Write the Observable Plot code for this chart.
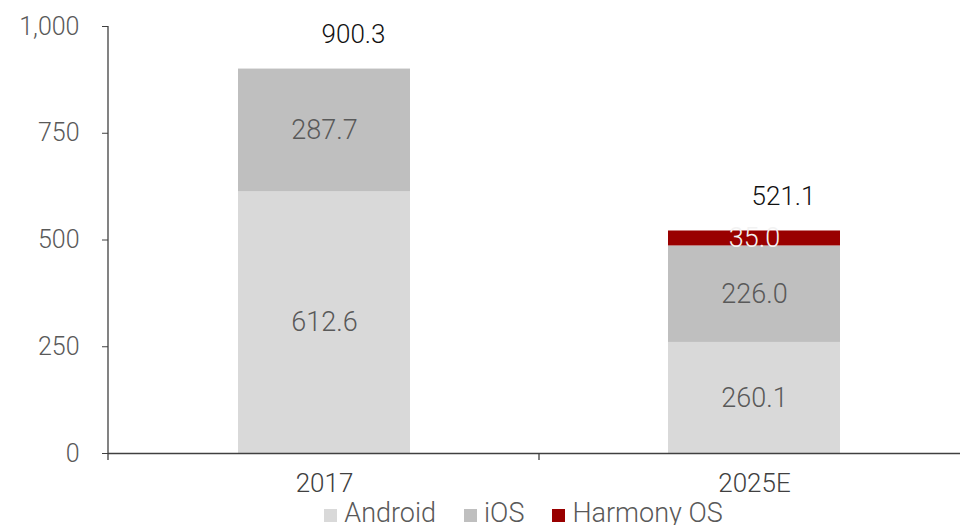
<!DOCTYPE html>
<html>
<head>
<meta charset="utf-8">
<script src="https://cdn.jsdelivr.net/npm/d3@7"></script>
<script src="https://cdn.jsdelivr.net/npm/@observablehq/plot@0.6"></script>
<style>
  html, body { margin: 0; padding: 0; background: #fff; }
  #chart { width: 960px; height: 525px; position: relative; overflow: hidden; }
  #chart svg { position: absolute; left: 0; top: 0; }
  .legend { position: absolute; left: 0; top: 499px; width: 960px; display: flex; justify-content: center; align-items: center;
    height: 28px; line-height: 28px; padding-left: 87px; box-sizing: border-box;
    font-family: Roboto, "Liberation Sans", sans-serif; font-weight: 300; font-size: 27px; color: #595959; }
  .legend .item { display: flex; align-items: center; margin: 0 14px; }
  .legend .sw { width: 13px; height: 13px; margin-right: 7px; margin-top: 4px; }
</style>
</head>
<body>
<div id="chart"></div>
<script>
const years = ["2017", "2025E"];
const osNames = ["Android", "iOS", "Harmony OS"];
const android = [612.6, 260.1];
const ios = [287.7, 226.0];
const harmony = [null, 35.0];
const totals = [900.3, 521.1];
const yTicks = [0, 250, 500, 750, 1000];
const colors = ["#d9d9d9", "#bfbfbf", "#990000"];

const seriesValues = [android, ios, harmony];
const rows = [];
years.forEach((yr, i) => {
  osNames.forEach((os, j) => {
    const v = seriesValues[j][i];
    if (v != null) rows.push({year: yr, os, value: v});
  });
});
const totalRows = years.map((yr, i) => ({year: yr, total: totals[i]}));

const FONT = 'Roboto, "Liberation Sans", sans-serif';

const extras = (index, scales, values, dim) => {
  const g = d3.create("svg:g");
  const x0 = dim.marginLeft, yb = dim.height - dim.marginBottom;
  g.append("line").attr("x1", x0).attr("x2", x0)
    .attr("y1", dim.marginTop).attr("y2", yb + 7)
    .attr("stroke", "#404040").attr("stroke-width", 1.3);
  const xs = scales.scales.x;
  const step = xs.step;
  const dom = xs.domain;
  for (let i = 1; i < dom.length; i++) {
    const bx = scales.x(dom[i]) + xs.bandwidth / 2 - step / 2;
    g.append("line").attr("x1", bx).attr("x2", bx).attr("y1", yb).attr("y2", yb + 7)
      .attr("stroke", "#404040").attr("stroke-width", 1.3);
  }
  return g.node();
};

const chart = Plot.plot({
  width: 960,
  height: 499,
  marginLeft: 108,
  marginRight: 0,
  marginTop: 26,
  marginBottom: 46,
  style: {fontFamily: FONT, fontSize: "25px", fontWeight: 300, color: "#595959", background: "#fff", overflow: "visible"},
  x: {domain: years, range: [109, 969], paddingInner: 0.6, paddingOuter: 0.3, label: null},
  y: {domain: [0, 1000], label: null},
  color: {domain: osNames, range: colors},
  marks: [
    Plot.barY(rows, Plot.stackY({x: "year", y: "value", fill: "os", order: osNames})),
    Plot.text(rows, Plot.stackY({x: "year", y: "value", z: "os", order: osNames,
      text: d => d.value.toFixed(1),
      fill: d => d.os === "Harmony OS" ? "#f2f2f2" : "#595959",
      fontSize: 27})),
    Plot.text(totalRows, {x: "year", y: "total", text: d => d.total.toFixed(1),
      dy: -34, dx: 29, fill: "#111", fontSize: 26}),
    Plot.ruleY([0], {stroke: "#404040", strokeWidth: 1.3}),
    Plot.axisY({ticks: yTicks, tickFormat: d => d3.format(",")(d), tickSize: 6, tickPadding: 23,
      stroke: "#404040", fill: "#595959", fontSize: 25}),
    Plot.axisX({tickSize: 0, tickPadding: 20, fill: "#404040", fontSize: 26}),
    extras
  ]
});
document.getElementById("chart").appendChild(chart);

const legend = document.createElement("div");
legend.className = "legend";
osNames.forEach((n, i) => {
  const it = document.createElement("div");
  it.className = "item";
  const sw = document.createElement("span");
  sw.className = "sw";
  sw.style.background = colors[i];
  const t = document.createElement("span");
  t.textContent = n;
  it.appendChild(sw); it.appendChild(t);
  legend.appendChild(it);
});
document.getElementById("chart").appendChild(legend);
</script>
</body>
</html>
